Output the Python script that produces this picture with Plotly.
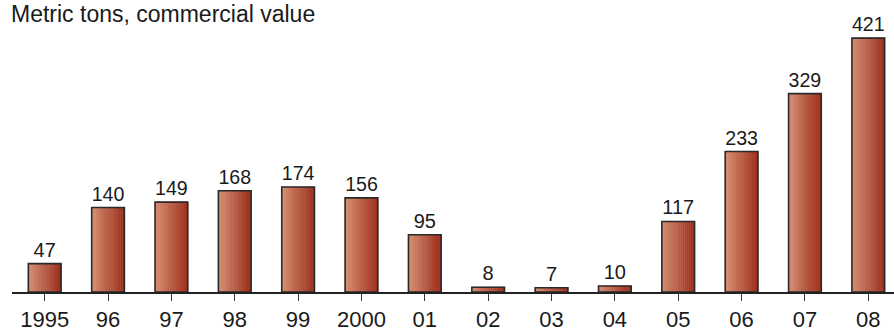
import plotly.graph_objects as go

# Annual commercial value, metric tons
years = ["1995", "96", "97", "98", "99", "2000", "01", "02", "03", "04", "05", "06", "07", "08"]
tons = [47, 140, 149, 168, 174, 156, 95, 8, 7, 10, 117, 233, 329, 421]

BAR_W = 0.516
N_SLICES = 16
LIGHT = (212, 140, 112)
DARK = (158, 48, 28)

fig = go.Figure()

# Horizontal gradient built from thin vertical slices, light on the left to dark on the right
step = BAR_W / N_SLICES
for k in range(N_SLICES):
    t = k / (N_SLICES - 1)
    r, g, b = (round(LIGHT[i] + (DARK[i] - LIGHT[i]) * t) for i in range(3))
    fig.add_trace(go.Bar(
        x=years, y=tons,
        width=step,
        offset=-BAR_W / 2 + k * step,
        marker=dict(color=f"rgb({r},{g},{b})", line=dict(width=0.6, color=f"rgb({r},{g},{b})")),
        hoverinfo="skip", showlegend=False,
    ))

# Outline and value labels
fig.add_trace(go.Bar(
    x=years, y=tons,
    width=BAR_W, offset=-BAR_W / 2,
    marker=dict(color="rgba(0,0,0,0)", line=dict(color="#2a2a2a", width=1.6)),
    text=[str(v) for v in tons], textposition="outside",
    textfont=dict(family="Liberation Sans, Arial, sans-serif", size=20, color="#1a1a1a"),
    cliponaxis=False, showlegend=False,
))

fig.update_layout(
    width=894, height=331,
    margin=dict(l=12, r=0, t=20, b=39),
    paper_bgcolor="white", plot_bgcolor="white",
    barmode="overlay",
    font=dict(family="Liberation Sans, Arial, sans-serif", color="#1a1a1a"),
    xaxis=dict(
        type="category", range=[-0.516, 13.406],
        showline=True, linecolor="#222", linewidth=2,
        ticks="outside", ticklen=7, tickcolor="#333", tickwidth=1,
        tickfont=dict(size=22), showgrid=False, zeroline=False,
    ),
    yaxis=dict(range=[0, 451], visible=False, showgrid=False, zeroline=False),
    annotations=[dict(
        text="Metric tons, commercial value",
        xref="paper", yref="paper", x=-0.003, y=1, yshift=6,
        xanchor="left", yanchor="middle", showarrow=False,
        font=dict(size=23, color="#1a1a1a"),
    )],
)

fig.write_html("out.html")
